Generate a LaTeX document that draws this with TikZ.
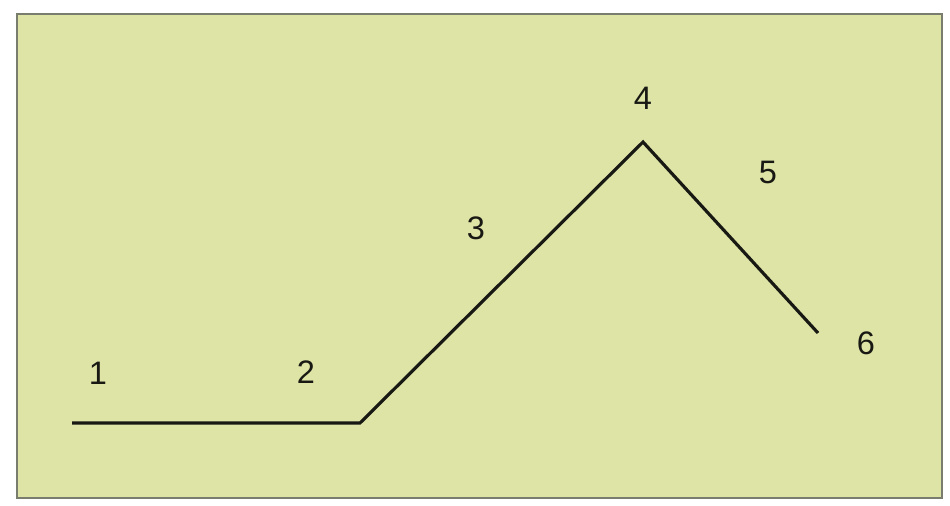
\documentclass[tikz,border=0pt]{standalone}
\usepackage{fontspec}
\setmainfont{Liberation Sans}
\usetikzlibrary{positioning}
\definecolor{panelfill}{RGB}{222,227,166}
\definecolor{panelrim}{RGB}{120,125,110}
\definecolor{pathline}{RGB}{25,25,20}

\begin{document}
\begin{tikzpicture}[x=0.02cm, y=-0.02cm,
  num/.style={font=\fontsize{18.5}{22}\selectfont, text=pathline, inner sep=0pt},
  track/.style={line width=1.8pt, pathline, line join=miter}
]
  \useasboundingbox (0,0) rectangle (950,506);
  \fill[white] (0,0) rectangle (950,506);
  \draw[panelrim, line width=1.2pt, fill=panelfill] (17,14) rectangle (942,498);
  % corner points of the path
  \coordinate (p1) at (72,423);
  \coordinate (p2) at (360,423);
  \coordinate (p3) at (643,142);
  \coordinate (p4) at (818,333);
  \draw[track] (p1) -- (p2) -- (p3) -- (p4);
  % point labels
  \node[num] (n1) at (98,373) {1};
  \node[num] (n2) at (306,372) {2};
  \node[num] (n3) at (476,228) {3};
  \node[num] (n4) at (643,98) {4};
  \node[num] (n5) at (768,172) {5};
  \node[num] (n6) at (866,343) {6};
\end{tikzpicture}
\end{document}
